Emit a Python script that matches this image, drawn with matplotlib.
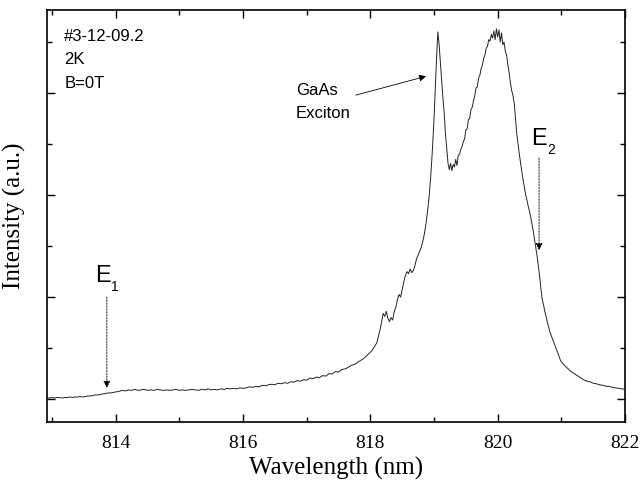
import matplotlib
matplotlib.use("Agg")
import matplotlib.pyplot as plt
from matplotlib.ticker import MultipleLocator, NullFormatter

wavelength = [
    812.92, 812.96, 813.00, 813.04, 813.08, 813.12, 813.16, 813.20, 813.24, 813.28,
    813.32, 813.36, 813.40, 813.44, 813.48, 813.52, 813.56, 813.60, 813.64, 813.68,
    813.72, 813.76, 813.80, 813.84, 813.88, 813.92, 813.96, 814.00,
    814.05, 814.10, 814.15, 814.20, 814.25, 814.30, 814.35, 814.40, 814.45, 814.50,
    814.55, 814.60, 814.65, 814.70, 814.75, 814.80, 814.85, 814.90, 814.95, 815.00,
    815.05, 815.10, 815.15, 815.20, 815.25, 815.30, 815.35, 815.40, 815.45, 815.50,
    815.55, 815.60, 815.65, 815.70, 815.75, 815.80, 815.85, 815.90, 815.95, 816.00,
    816.05, 816.10, 816.15, 816.20, 816.25, 816.30, 816.35, 816.40, 816.45, 816.50,
    816.55, 816.60, 816.65, 816.70, 816.75, 816.80, 816.85, 816.90, 816.95, 817.00,
    817.05, 817.10, 817.15, 817.20, 817.25, 817.30, 817.35, 817.40, 817.45, 817.50,
    817.55, 817.60, 817.65, 817.70, 817.75, 817.80, 817.85, 817.90, 817.95, 818.00,
    818.025, 818.05, 818.075, 818.10, 818.125, 818.15, 818.175, 818.20, 818.225, 818.25,
    818.275, 818.30, 818.325, 818.35, 818.375, 818.40, 818.425, 818.45, 818.475, 818.50,
    818.525, 818.55, 818.575, 818.60, 818.625, 818.65, 818.675, 818.70, 818.725, 818.75,
    818.775, 818.80, 818.825, 818.85, 818.875, 818.90, 818.925, 818.95, 818.975, 819.00,
    819.02, 819.04, 819.06, 819.08, 819.10, 819.12, 819.14, 819.16, 819.18, 819.20,
    819.22, 819.24, 819.26, 819.28, 819.30, 819.32, 819.34, 819.36, 819.38, 819.40,
    819.42, 819.44, 819.46, 819.48, 819.50, 819.52, 819.54, 819.56, 819.58, 819.60,
    819.62, 819.64, 819.66, 819.68, 819.70, 819.72, 819.74, 819.76, 819.78, 819.80,
    819.82, 819.84, 819.86, 819.88, 819.90, 819.92, 819.94, 819.96, 819.98, 820.00,
    820.02, 820.04, 820.06, 820.08, 820.10, 820.12, 820.14, 820.16, 820.18, 820.20,
    820.22, 820.24, 820.26, 820.28, 820.30, 820.32, 820.34, 820.36, 820.38, 820.40,
    820.42, 820.44, 820.46, 820.48, 820.50, 820.52, 820.54, 820.56, 820.58, 820.60,
    820.62, 820.64, 820.66, 820.68, 820.70, 820.72, 820.74, 820.76, 820.78, 820.80,
    820.82, 820.84, 820.86, 820.88, 820.90, 820.92, 820.94, 820.96, 820.98, 821.00,
    821.05, 821.10, 821.15, 821.20, 821.25, 821.30, 821.35, 821.40, 821.45, 821.50,
    821.55, 821.60, 821.65, 821.70, 821.75, 821.80, 821.85, 821.90, 821.95, 822.00,
]

intensity = [
    0.03, 0.02, 0.03, 0.02, 0.03, 0.03, 0.02, 0.03, 0.03, 0.04,
    0.03, 0.04, 0.04, 0.05, 0.04, 0.05, 0.06, 0.06, 0.07, 0.08,
    0.08, 0.09, 0.10, 0.11, 0.12, 0.12, 0.13, 0.14,
    0.15, 0.17, 0.16, 0.18, 0.17, 0.19, 0.17, 0.18, 0.19, 0.17,
    0.18, 0.17, 0.19, 0.18, 0.17, 0.18, 0.17, 0.18, 0.19, 0.17,
    0.18, 0.17, 0.18, 0.19, 0.18, 0.17, 0.19, 0.18, 0.20, 0.18,
    0.19, 0.18, 0.20, 0.19, 0.21, 0.20, 0.21, 0.20, 0.22, 0.21,
    0.22, 0.24, 0.23, 0.25, 0.24, 0.27, 0.26, 0.28, 0.29, 0.28,
    0.31, 0.30, 0.32, 0.31, 0.34, 0.33, 0.36, 0.35, 0.38, 0.37,
    0.41, 0.40, 0.43, 0.42, 0.46, 0.45, 0.50, 0.49, 0.54, 0.53,
    0.58, 0.59, 0.62, 0.66, 0.68, 0.72, 0.76, 0.80, 0.86, 0.92,
    0.95, 1.00, 1.05, 1.10, 1.22, 1.35, 1.50, 1.68, 1.62, 1.72,
    1.58, 1.52, 1.60, 1.55, 1.72, 1.80, 1.95, 2.05, 2.00, 2.15,
    2.30, 2.42, 2.50, 2.46, 2.55, 2.48, 2.52, 2.62, 2.75, 2.82,
    2.90, 2.98, 3.10, 3.25, 3.45, 3.70, 4.00, 4.40, 4.90, 5.50,
    6.10, 6.70, 7.20, 6.95, 6.60, 6.25, 5.90, 5.60, 5.20, 4.90,
    4.62, 4.50, 4.62, 4.48, 4.60, 4.55, 4.70, 4.58, 4.78, 4.80,
    4.90, 4.95, 5.05, 5.10, 5.28, 5.30, 5.48, 5.50, 5.68, 5.72,
    5.85, 5.95, 6.10, 6.12, 6.30, 6.35, 6.48, 6.55, 6.68, 6.75,
    6.88, 6.92, 7.05, 7.02, 7.15, 7.08, 7.22, 7.05, 7.26, 7.10,
    7.24, 7.00, 7.18, 6.95, 7.00, 6.82, 6.75, 6.55, 6.40, 6.20,
    6.05, 5.95, 5.80, 5.50, 5.20, 5.00, 4.80, 4.62, 4.45, 4.30,
    4.15, 4.00, 3.90, 3.78, 3.68, 3.56, 3.42, 3.28, 3.12, 2.95,
    2.80, 2.60, 2.40, 2.15, 1.95, 1.85, 1.72, 1.62, 1.50, 1.42,
    1.32, 1.25, 1.18, 1.12, 1.05, 0.98, 0.92, 0.85, 0.78, 0.73,
    0.66, 0.60, 0.54, 0.50, 0.46, 0.42, 0.38, 0.35, 0.34, 0.31,
    0.30, 0.28, 0.27, 0.25, 0.25, 0.23, 0.22, 0.21, 0.20, 0.19,
]

x_major_ticks = [814, 816, 818, 820, 822]
x_tick_labels = ["814", "816", "818", "820", "822"]

sample_lines = ["#3-12-09.2", "2K", "B=0T"]

SANS = "Liberation Sans"
SERIF = "Liberation Serif"

fig = plt.figure(figsize=(6.41, 4.87), dpi=100)
ax = fig.add_axes([47 / 641, 1 - 422 / 487, (625 - 47) / 641, (422 - 10) / 487])

ax.plot(wavelength, intensity, color="#222222", lw=0.7)

ax.set_xlim(812.92, 822.0)
ax.set_ylim(-0.45, 7.63)

ax.set_xticks(x_major_ticks)
ax.set_xticklabels(x_tick_labels, fontfamily=SERIF, fontsize=14)
ax.xaxis.set_minor_locator(MultipleLocator(1))
ax.yaxis.set_major_locator(MultipleLocator(2))
ax.yaxis.set_minor_locator(MultipleLocator(1))
ax.yaxis.set_major_formatter(NullFormatter())

ax.tick_params(which="both", direction="in", top=True, right=True, width=1.0, color="black")
ax.tick_params(which="major", length=6, pad=9)
ax.tick_params(which="minor", length=3.5)
for s in ax.spines.values():
    s.set_linewidth(1.2)

ax.set_xlabel("Wavelength (nm)", fontfamily=SERIF, fontsize=18, labelpad=4)
ax.set_ylabel("Intensity (a.u.)", fontfamily=SERIF, fontsize=18, labelpad=6)

# sample info
for i, t in enumerate(sample_lines):
    ax.text(813.19, 7.12 - 0.47 * i, t, fontfamily=SANS, fontsize=12, va="center", ha="left")

# GaAs exciton annotation
ax.text(816.83, 6.06, "GaAs", fontfamily=SANS, fontsize=12, va="center", ha="left")
ax.text(816.83, 5.61, "Exciton", fontfamily=SANS, fontsize=12, va="center", ha="left")
ax.annotate("", xy=(818.875, 6.33), xytext=(817.77, 5.96),
            arrowprops=dict(arrowstyle="-|>", color="black", lw=0.6,
                            mutation_scale=10, shrinkA=0, shrinkB=0))

# E1
ax.text(813.67, 2.29, "E", fontfamily=SANS, fontsize=17, va="baseline", ha="left")
ax.text(813.93, 2.12, "1", fontfamily=SANS, fontsize=10, va="baseline", ha="left")
ax.annotate("", xy=(813.86, 0.22), xytext=(813.86, 2.0),
            arrowprops=dict(arrowstyle="-|>", color="black", lw=0.6, linestyle=(0, (2, 1.5)),
                            mutation_scale=10, shrinkA=0, shrinkB=0))

# E2
ax.text(820.52, 4.98, "E", fontfamily=SANS, fontsize=17, va="baseline", ha="left")
ax.text(820.78, 4.80, "2", fontfamily=SANS, fontsize=10, va="baseline", ha="left")
ax.annotate("", xy=(820.65, 2.92), xytext=(820.65, 4.73),
            arrowprops=dict(arrowstyle="-|>", color="black", lw=0.6, linestyle=(0, (2, 1.5)),
                            mutation_scale=10, shrinkA=0, shrinkB=0))

fig.savefig("out.png", dpi=100)
